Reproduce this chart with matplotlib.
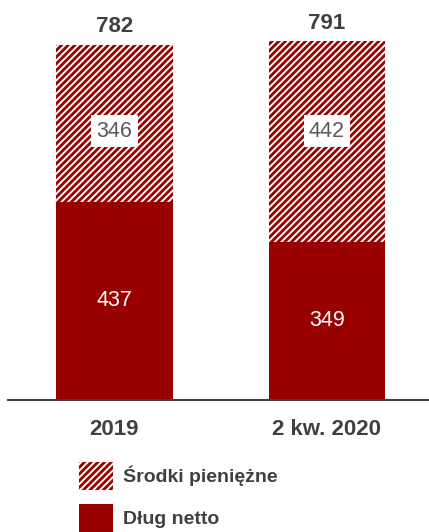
import matplotlib
matplotlib.use("Agg")
import matplotlib.pyplot as plt
from matplotlib import font_manager as fm
import numpy as np

categories = ["2019", "2 kw. 2020"]
net_debt = [437, 349]
cash = [346, 442]
totals = [782, 791]
series_names = ["Środki pieniężne", "Dług netto"]

DARK_RED = "#990000"
TEXT_DARK = "#404040"
TEXT_GRAY = "#595959"

_names = {f.name for f in fm.fontManager.ttflist}
if "Liberation Sans Narrow" in _names:
    FAMILY = "Liberation Sans Narrow"
    S_VAL, S_TOT, S_CAT, S_LEG = 17.5, 18.5, 19, 15.5
else:
    FAMILY = "Liberation Sans"
    S_VAL, S_TOT, S_CAT, S_LEG = 15.5, 16, 16, 14

plt.rcParams['font.family'] = [FAMILY, 'DejaVu Sans']
plt.rcParams['hatch.linewidth'] = 2.0
plt.rcParams['hatch.color'] = DARK_RED

W, H = 429, 532
fig = plt.figure(figsize=(W / 100, H / 100), dpi=100)
ax = fig.add_axes([8 / W, 132 / H, 421 / W, 400 / H])

x = np.arange(len(categories))
bw = 0.55
b_debt = ax.bar(x, net_debt, width=bw, color=DARK_RED, linewidth=0, label=series_names[1])
b_cash = ax.bar(x, cash, width=bw, bottom=net_debt, facecolor="white",
                edgecolor=DARK_RED, hatch="/////", linewidth=0, label=series_names[0])

ax.set_ylim(0, 882)
ax.set_xlim(-0.501, 1.48)

for s in ["top", "right", "left"]:
    ax.spines[s].set_visible(False)
ax.spines["bottom"].set_color(TEXT_DARK)
ax.spines["bottom"].set_linewidth(1.5)
ax.set_yticks([])
ax.set_xticks(x)
ax.set_xticklabels(categories, fontsize=S_CAT, fontweight="bold", color=TEXT_DARK)
ax.tick_params(axis="x", length=0, pad=14)

CASH_LABEL_Y = 593
for i in range(len(categories)):
    ax.text(x[i], net_debt[i] / 2, str(net_debt[i]), ha="center", va="center",
            fontsize=S_VAL, color="white")
    ax.text(x[i], CASH_LABEL_Y, str(cash[i]), ha="center", va="center",
            fontsize=S_VAL, color=TEXT_GRAY,
            bbox=dict(boxstyle="square,pad=0.25", facecolor="white", edgecolor="none"))
    top = net_debt[i] + cash[i]
    ax.annotate(str(totals[i]), (x[i], top), xytext=(0, 13), textcoords="offset points",
                ha="center", va="center", fontsize=S_TOT, fontweight="bold", color=TEXT_DARK)

fs_px = S_LEG * 100 / 72
hh = (28 / fs_px - 0.245) / 0.65
leg = fig.legend([b_cash, b_debt], series_names, loc="upper left",
                 bbox_to_anchor=(79 / W, 1 - 462 / H), borderaxespad=0, borderpad=0,
                 frameon=False, handlelength=34 / fs_px, handleheight=hh,
                 labelspacing=14 / fs_px, handletextpad=10 / fs_px,
                 prop=dict(size=S_LEG, weight="bold"))
for t in leg.get_texts():
    t.set_color(TEXT_DARK)

fig.savefig("out.png", dpi=100)
